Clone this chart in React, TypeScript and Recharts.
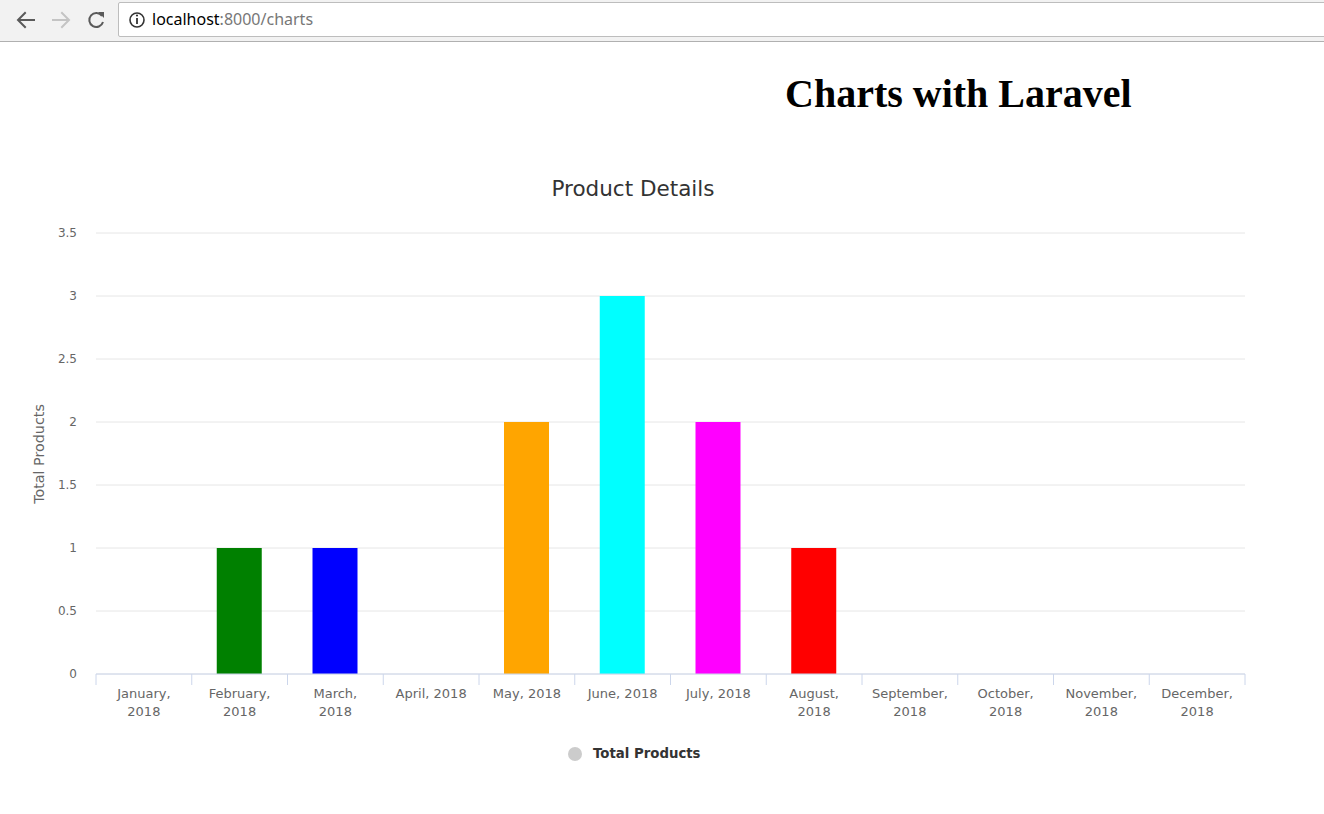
import React from "react";
import { BarChart, Bar, XAxis, YAxis, CartesianGrid, Cell } from "recharts";

const categories = [
  "January, 2018",
  "February, 2018",
  "March, 2018",
  "April, 2018",
  "May, 2018",
  "June, 2018",
  "July, 2018",
  "August, 2018",
  "September, 2018",
  "October, 2018",
  "November, 2018",
  "December, 2018",
];
const totalProducts = [0, 1, 1, 0, 2, 3, 2, 1, 0, 0, 0, 0];
const barColors = [
  "#ffff00",
  "#008000",
  "#0000ff",
  "#800080",
  "#ffa500",
  "#00ffff",
  "#ff00ff",
  "#ff0000",
  "#808000",
  "#008080",
  "#800000",
  "#000080",
];
const singleLineLabels = ["April, 2018", "May, 2018", "June, 2018", "July, 2018"];
const yTicks = [0, 0.5, 1, 1.5, 2, 2.5, 3, 3.5];

const data = categories.map((c, i) => ({ name: c, value: totalProducts[i] }));

const FONT = "'DejaVu Sans', 'Lucida Grande', Arial, sans-serif";
const PLOT_LEFT = 96;
const PLOT_RIGHT = 1245;
const BAND = (PLOT_RIGHT - PLOT_LEFT) / categories.length;

const XTick = (props: any) => {
  const { x, y, payload, index } = props;
  const label: string = payload.value;
  const lines = singleLineLabels.includes(label)
    ? [label]
    : [label.split(" ")[0], label.split(" ")[1]];
  return (
    <g>
      <line x1={x - BAND / 2} x2={x - BAND / 2} y1={y} y2={y + 11} stroke="#ccd6eb" strokeWidth={1} />
      {index === categories.length - 1 && (
        <line x1={x + BAND / 2} x2={x + BAND / 2} y1={y} y2={y + 11} stroke="#ccd6eb" strokeWidth={1} />
      )}
      {lines.map((l, i) => (
        <text
          key={i}
          x={x}
          y={y + 24 + i * 18}
          textAnchor="middle"
          fill="#666666"
          fontSize={13}
          fontFamily={FONT}
        >
          {l}
        </text>
      ))}
    </g>
  );
};

const YLabel = (props: any) => {
  const cx = 39;
  const cy = 294;
  return (
    <text
      x={cx}
      y={cy}
      transform={`rotate(-90 ${cx} ${cy})`}
      textAnchor="middle"
      dominantBaseline="central"
      fill="#666666"
      fontSize={14.3}
      fontFamily={FONT}
    >
      Total Products
    </text>
  );
};

const BrowserBar = () => (
  <div
    style={{
      position: "absolute",
      left: 0,
      top: 0,
      width: 1324,
      height: 41,
      background: "#f2f2f2",
      borderBottom: "1px solid #b0b0b0",
    }}
  >
    <svg width={118} height={41} style={{ position: "absolute", left: 0, top: 0 }}>
      <g stroke="#5a5a5a" strokeWidth={2} fill="none" strokeLinecap="square">
        <line x1={19} y1={20} x2={34} y2={20} />
        <polyline points="25,13 18,20 25,27" />
      </g>
      <g stroke="#c4c4c4" strokeWidth={2} fill="none" strokeLinecap="square">
        <line x1={53} y1={20} x2={68} y2={20} />
        <polyline points="62,13 69,20 62,27" />
      </g>
      <g stroke="#5a5a5a" strokeWidth={2} fill="none">
        <path d="M 102 16 A 7 7 0 1 0 103 22" />
        <polygon points="98,12 104,12 104,18" fill="#5a5a5a" stroke="none" />
      </g>
    </svg>
    <div
      style={{
        position: "absolute",
        left: 118,
        top: 2,
        width: 1220,
        height: 33,
        background: "#ffffff",
        border: "1px solid #bdbdbd",
        borderRadius: 2,
      }}
    >
      <svg width={24} height={33} style={{ position: "absolute", left: 8, top: 0 }}>
        <circle cx={10} cy={17} r={7} fill="none" stroke="#333" strokeWidth={1.6} />
        <line x1={10} y1={15} x2={10} y2={21} stroke="#333" strokeWidth={1.8} />
        <circle cx={10} cy={12.5} r={1.1} fill="#333" />
      </svg>
      <div
        style={{
          position: "absolute",
          left: 33,
          top: 6,
          fontFamily: "'Noto Sans', 'Open Sans', Arial, sans-serif",
          fontSize: 16,
          lineHeight: "20px",
          color: "#000",
          whiteSpace: "nowrap",
        }}
      >
        localhost<span style={{ color: "#777" }}>:8000/charts</span>
      </div>
    </div>
  </div>
);

export default function App() {
  return (
    <div
      style={{
        position: "absolute",
        left: 0,
        top: 0,
        width: 1324,
        height: 814,
        background: "#ffffff",
        overflow: "hidden",
      }}
    >
      <BrowserBar />
      <div
        style={{
          position: "absolute",
          left: 785,
          top: 73.5,
          fontFamily: "'Liberation Serif', 'Times New Roman', serif",
          fontWeight: "bold",
          fontSize: 40,
          lineHeight: "40px",
          color: "#000",
          whiteSpace: "nowrap",
        }}
      >
        Charts with Laravel
      </div>
      <div
        style={{
          position: "absolute",
          left: 0,
          top: 178,
          width: 1266,
          textAlign: "center",
          fontFamily: FONT,
          fontSize: 21.5,
          lineHeight: "21.5px",
          color: "#333333",
          whiteSpace: "nowrap",
        }}
      >
        Product Details
      </div>
      <div style={{ position: "absolute", left: 0, top: 160 }}>
        <BarChart
          width={1324}
          height={640}
          data={data}
          margin={{ top: 73, right: 1324 - PLOT_RIGHT, left: PLOT_LEFT - 60, bottom: 96 }}
        >
          <CartesianGrid vertical={false} stroke="#e6e6e6" />
          <XAxis
            dataKey="name"
            interval={0}
            height={30}
            axisLine={{ stroke: "#ccd6eb" }}
            tickLine={false}
            tickSize={0}
            tickMargin={0}
            tick={<XTick />}
          />
          <YAxis
            width={60}
            domain={[0, 3.5]}
            ticks={yTicks}
            axisLine={false}
            tickLine={false}
            tickSize={0}
            tickMargin={19}
            tick={{ fill: "#666666", fontSize: 12, fontFamily: FONT }}
            label={<YLabel />}
          />
          <Bar dataKey="value" barSize={45} isAnimationActive={false}>
            {data.map((d, i) => (
              <Cell key={i} fill={barColors[i]} />
            ))}
          </Bar>
        </BarChart>
      </div>
      <div
        style={{
          position: "absolute",
          left: 568,
          top: 746,
          display: "flex",
          alignItems: "center",
          whiteSpace: "nowrap",
        }}
      >
        <span
          style={{
            display: "inline-block",
            width: 14,
            height: 14,
            borderRadius: 7,
            background: "#cccccc",
          }}
        />
        <span
          style={{
            marginLeft: 11,
            fontFamily: FONT,
            fontWeight: "bold",
            fontSize: 13.3,
            color: "#333333",
            lineHeight: "16px",
          }}
        >
          Total Products
        </span>
      </div>
    </div>
  );
}
